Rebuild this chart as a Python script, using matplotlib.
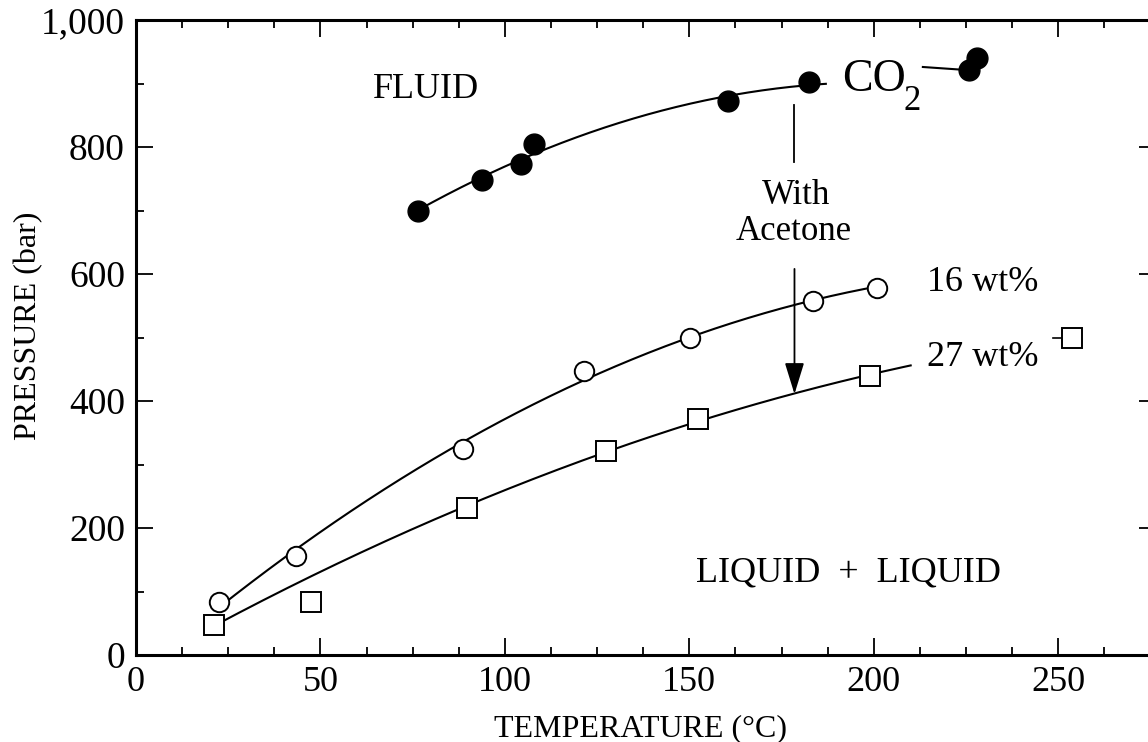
import numpy as np
import matplotlib
matplotlib.use("Agg")
import matplotlib.pyplot as plt
from matplotlib.ticker import MultipleLocator, FuncFormatter
from matplotlib.patches import FancyArrowPatch

plt.rcParams['font.family'] = ['Liberation Serif', 'DejaVu Serif']

# ---- data ----
co2_T = [76.5, 93.7, 104.5, 107.9, 160.5, 182.4, 225.7, 228.1]
co2_P = [700, 748, 774, 805, 872, 902, 921, 940]
ac16_T = [22.4, 43.4, 88.7, 121.5, 150.1, 183.6, 200.9]
ac16_P = [84, 156, 325, 448, 500, 558, 578]
ac27_T = [21.2, 47.5, 89.6, 127.4, 152.4, 198.9, 253.8]
ac27_P = [47, 84, 231, 321, 371, 440, 500]

# points used for the smooth trend curves, and curve extents
co2_fit_idx = [0, 1, 2, 3, 4, 5]
ac16_fit_idx = [0, 1, 2, 3, 4, 5, 6]
ac27_fit_idx = [0, 2, 3, 4, 5]
co2_range = (76.5, 187.0)
ac16_range = (22.4, 200.9)
ac27_range = (21.2, 210.0)

x_ticks = [0, 50, 100, 150, 200, 250]
y_ticks = [0, 200, 400, 600, 800, 1000]

fig = plt.figure(figsize=(11.48, 7.42), dpi=100)
ax = fig.add_axes([136/1148, 1-655/742, 1020/1148, (655-20)/742])


def trend(T, P, idx, rng, deg=2):
    t = np.asarray(T)[idx]
    p = np.asarray(P)[idx]
    c = np.polyfit(t, p, deg)
    xs = np.linspace(rng[0], rng[1], 200)
    return xs, np.polyval(c, xs)


lw = 1.5
for T, P, idx, rng in [(co2_T, co2_P, co2_fit_idx, co2_range),
                       (ac16_T, ac16_P, ac16_fit_idx, ac16_range),
                       (ac27_T, ac27_P, ac27_fit_idx, ac27_range)]:
    xs, ys = trend(T, P, idx, rng)
    ax.plot(xs, ys, color='black', lw=lw, zorder=2)

# leader lines to the labels
ax.plot([213.3, co2_T[6]], [926, co2_P[6]], color='black', lw=lw, zorder=2)
ax.plot([248.5, ac27_T[6]], [500, ac27_P[6]], color='black', lw=1.2, zorder=2)

ax.plot(co2_T, co2_P, 'o', color='black', ms=15, zorder=3)
ax.plot(ac16_T, ac16_P, 'o', mfc='white', mec='black', mew=1.4, ms=14, zorder=3)
ax.plot(ac27_T, ac27_P, 's', mfc='white', mec='black', mew=1.4, ms=14, zorder=3)

# arrow "With Acetone"
ax.plot([178.5, 178.5], [866, 777], color='black', lw=1.3)
arr = FancyArrowPatch((178.5, 608), (178.5, 411),
                      arrowstyle='-|>,head_length=0.97,head_width=0.3',
                      mutation_scale=20, color='black', lw=1.3,
                      shrinkA=0, shrinkB=0)
ax.add_patch(arr)

# annotations
ax.text(64.3, 877, 'FLUID', fontsize=26, ha='left', va='baseline')
ax.text(191.4, 888, 'CO', fontsize=33, ha='left', va='baseline')
ax.text(208.0, 858, '2', fontsize=25, ha='left', va='baseline')
ax.text(179, 711, 'With', fontsize=25, ha='center', va='baseline')
ax.text(178.4, 653, 'Acetone', fontsize=25, ha='center', va='baseline')
ax.text(214.5, 574, '16 wt%', fontsize=26, ha='left', va='baseline')
ax.text(214.5, 455, '27 wt%', fontsize=26, ha='left', va='baseline')
ax.text(151.8, 116, 'LIQUID  +  LIQUID', fontsize=26, ha='left', va='baseline')

ax.set_xlim(0, 276.5)
ax.set_ylim(0, 1000)
ax.set_xticks(x_ticks)
ax.set_yticks(y_ticks)
ax.xaxis.set_minor_locator(MultipleLocator(12.5))
ax.yaxis.set_minor_locator(MultipleLocator(100))
ax.yaxis.set_major_formatter(FuncFormatter(lambda v, p: f'{v:,.0f}'))

ax.tick_params(which='both', direction='in', top=True, right=True, width=1.3)
ax.tick_params(which='major', length=12)
ax.tick_params(which='minor', length=6)
ax.tick_params(axis='x', which='major', labelsize=26, pad=8)
ax.tick_params(axis='y', which='major', labelsize=27, pad=8)
for s in ax.spines.values():
    s.set_linewidth(2.2)

fig.text(29/1148, 1-326/742, 'PRESSURE (bar)', rotation=90, fontsize=23,
         ha='center', va='center')
fig.text(640/1148, 1-736/742, 'TEMPERATURE (°C)', fontsize=23,
         ha='center', va='baseline')

fig.savefig('out.png', dpi=100)
